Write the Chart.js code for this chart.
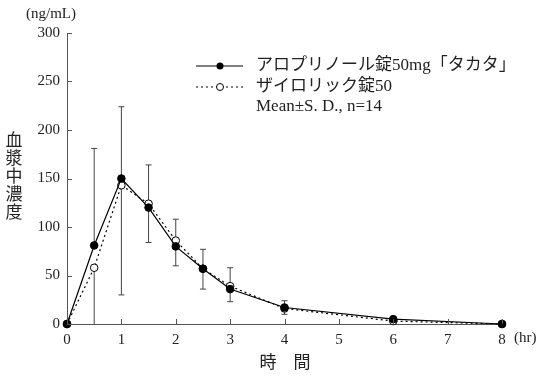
<!DOCTYPE html>
<html>
<head>
<meta charset="utf-8">
<script src="https://cdn.jsdelivr.net/npm/chart.js@4"></script>
<style>
  html, body { margin: 0; padding: 0; background: #fff; }
  #wrap { width: 541px; height: 377px; }
</style>
</head>
<body>
<div id="wrap"><canvas id="pkChart" width="541" height="377"></canvas></div>
<script>
// sampling times (hr)
const times = [0, 0.5, 1, 1.5, 2, 2.5, 3, 4, 6, 8];
// アロプリノール錠50mg「タカタ」 mean and SD (upper bar)
const testMean = [0, 81, 150, 120, 80, 57, 36, 17, 5, 0];
const testSD = [0, 100, 74, 44, 28, 20, 22, 7, 2, 0];
// ザイロリック錠50 mean and SD (lower bar)
const refMean = [0, 58, 143, 124, 86, 57, 39, 16, 3, 0];
const refSD = [0, 70, 113, 40, 26, 21, 16, 6, 1, 0];

const xTicks = [0, 1, 2, 3, 4, 5, 6, 7, 8];
const yTicks = [0, 50, 100, 150, 200, 250, 300];

const legendLabels = ['アロプリノール錠50mg「タカタ」', 'ザイロリック錠50', 'Mean±S. D., n=14'];

const serif = '"Liberation Serif", "DejaVu Serif", "Noto Sans CJK JP", serif';
const jpFont = '"Liberation Serif", "Noto Sans CJK JP", serif';

// error bars: upper for test, lower for reference
const errorBars = {
    id: 'errorBars',
    beforeDatasetsDraw(chart) {
        const { ctx, chartArea, scales: { x, y } } = chart;
        ctx.save();
        ctx.beginPath();
        ctx.rect(chartArea.left - 10, chartArea.top - 10, chartArea.width + 20, chartArea.height + 10);
        ctx.clip();
        ctx.strokeStyle = '#444';
        ctx.lineWidth = 1;
        const bar = (t, from, to) => {
            if (to === from) return;
            const px = x.getPixelForValue(t);
            const y0 = y.getPixelForValue(from);
            const y1 = y.getPixelForValue(to);
            ctx.beginPath();
            ctx.moveTo(px, y0);
            ctx.lineTo(px, y1);
            ctx.moveTo(px - 3, y1);
            ctx.lineTo(px + 3, y1);
            ctx.stroke();
        };
        times.forEach((t, i) => {
            bar(t, testMean[i], testMean[i] + testSD[i]);
            bar(t, refMean[i], refMean[i] - refSD[i]);
        });
        ctx.restore();
    }
};

// inward ticks, axis texts and legend
const decorations = {
    id: 'decorations',
    afterDraw(chart) {
        const { ctx, chartArea, scales: { x, y } } = chart;
        ctx.save();
        ctx.strokeStyle = '#555';
        ctx.lineWidth = 1;
        xTicks.forEach(v => {
            const px = Math.round(x.getPixelForValue(v)) + 0.5;
            ctx.beginPath();
            ctx.moveTo(px, chartArea.bottom);
            ctx.lineTo(px, chartArea.bottom - 5);
            ctx.stroke();
        });
        yTicks.forEach(v => {
            const py = Math.round(y.getPixelForValue(v)) + 0.5;
            ctx.beginPath();
            ctx.moveTo(chartArea.left, py);
            ctx.lineTo(chartArea.left + 5, py);
            ctx.stroke();
        });

        ctx.fillStyle = '#222';
        ctx.textBaseline = 'middle';
        ctx.font = '15px ' + serif;
        ctx.textAlign = 'center';
        ctx.fillText('(ng/mL)', 51, 14);
        ctx.textAlign = 'left';
        ctx.fillText('(hr)', 514, 338);

        ctx.font = '17px ' + jpFont;
        ctx.textAlign = 'center';
        ctx.fillText('時　間', 285, 364);
        const yTitle = '血漿中濃度';
        for (let i = 0; i < yTitle.length; i++) {
            ctx.fillText(yTitle[i], 14, 142 + i * 18);
        }

        // legend
        const rows = [66, 87, 107];
        ctx.strokeStyle = '#000';
        ctx.lineWidth = 1;
        ctx.beginPath();
        ctx.moveTo(196, rows[0]);
        ctx.lineTo(243, rows[0]);
        ctx.stroke();
        ctx.setLineDash([2, 3]);
        ctx.beginPath();
        ctx.moveTo(196, rows[1]);
        ctx.lineTo(243, rows[1]);
        ctx.stroke();
        ctx.setLineDash([]);
        ctx.fillStyle = '#000';
        ctx.beginPath();
        ctx.arc(220, rows[0], 3.5, 0, Math.PI * 2);
        ctx.fill();
        ctx.fillStyle = '#fff';
        ctx.beginPath();
        ctx.arc(220, rows[1], 3.5, 0, Math.PI * 2);
        ctx.fill();
        ctx.stroke();

        ctx.fillStyle = '#222';
        ctx.textAlign = 'left';
        ctx.font = '17px ' + jpFont;
        legendLabels.forEach((s, i) => ctx.fillText(s, 256, rows[i]));
        ctx.restore();
    }
};

const ctx = document.getElementById('pkChart').getContext('2d');
new Chart(ctx, {
    type: 'line',
    data: {
        datasets: [{
            label: legendLabels[0],
            data: times.map((t, i) => ({ x: t, y: testMean[i] })),
            borderColor: '#000',
            borderWidth: 1.2,
            pointRadius: 3.8,
            pointBackgroundColor: '#000',
            pointBorderColor: '#000',
            pointBorderWidth: 1,
            order: 0
        }, {
            label: legendLabels[1],
            data: times.map((t, i) => ({ x: t, y: refMean[i] })),
            borderColor: '#000',
            borderWidth: 1.2,
            borderDash: [2, 3],
            pointRadius: 3.8,
            pointBackgroundColor: '#fff',
            pointBorderColor: '#000',
            pointBorderWidth: 1,
            order: 1
        }]
    },
    options: {
        responsive: false,
        animation: false,
        clip: false,
        layout: { padding: { top: 33, right: 39, left: 0, bottom: 0 } },
        plugins: { legend: { display: false }, tooltip: { enabled: false } },
        scales: {
            x: {
                type: 'linear',
                min: 0,
                max: 8,
                afterFit: s => { s.height = 53; },
                ticks: { stepSize: 1, padding: 7, color: '#222', font: { family: serif, size: 15 } },
                grid: { display: false, drawTicks: false },
                border: { color: '#555', width: 1 }
            },
            y: {
                min: 0,
                max: 300,
                afterFit: s => { s.width = 67; },
                ticks: { stepSize: 50, padding: 7, color: '#222', font: { family: serif, size: 15 } },
                grid: { display: false, drawTicks: false },
                border: { color: '#555', width: 1 }
            }
        }
    },
    plugins: [errorBars, decorations]
});
</script>
</body>
</html>
